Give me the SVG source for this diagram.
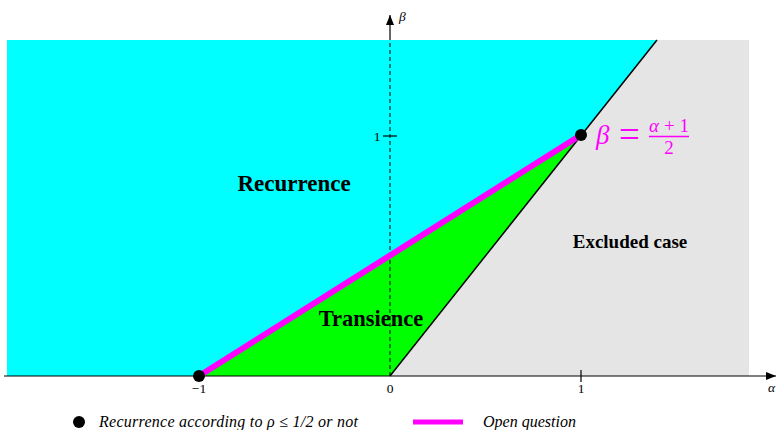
<svg xmlns="http://www.w3.org/2000/svg" width="777" height="430" viewBox="0 0 777 430">
<style>
.lbl{font-family:"Liberation Serif",serif;font-weight:bold;fill:#000}
.tick{font-family:"Liberation Serif",serif;font-size:13.5px;fill:#000}
.leg{font-family:"Liberation Serif",serif;font-style:italic;font-size:16px;fill:#000}
.mag{font-family:"Liberation Serif",serif;fill:#ff00ff}
.axis{stroke:#000;stroke-width:1.2;fill:none}
</style>
<defs>
<marker id="arr" viewBox="0 0 10 8" refX="10" refY="4" markerWidth="10" markerHeight="8" markerUnits="userSpaceOnUse" orient="auto">
<path d="M0,0 L10,4 L0,8 Z" fill="#000"/>
</marker>
</defs>
<rect width="777" height="430" fill="#fff"/>
<g id="regions">
<polygon id="recurrence-region" points="7,40 657,40 390,376 7,376" fill="#00ffff"/>
<polygon id="excluded-region" points="657,40 749,40 749,376 390,376" fill="#e5e5e5"/>
<polygon id="transience-region" points="199,376 581,135 390,376" fill="#00ff00"/>
</g>
<g id="axes">
<line class="axis" x1="4" y1="376" x2="776" y2="376" marker-end="url(#arr)"/>
<line class="axis" x1="390" y1="40" x2="390" y2="15" marker-end="url(#arr)"/>
<line x1="390" y1="376" x2="390" y2="40" stroke="#000" stroke-width="1" stroke-dasharray="4,3"/>
<line class="axis" x1="383" y1="136" x2="397" y2="136"/>
<line class="axis" x1="581" y1="370" x2="581" y2="382"/>
<text class="tick" x="199" y="393" text-anchor="middle">−1</text>
<text class="tick" x="390" y="393" text-anchor="middle">0</text>
<text class="tick" x="581" y="393" text-anchor="middle">1</text>
<text class="tick" x="377" y="141" text-anchor="middle">1</text>
<text class="tick" x="768" y="392" font-style="italic" font-size="15">α</text>
<text class="tick" x="399" y="21" font-style="italic" font-size="15">β</text>
</g>
<g id="connectors">
<line id="boundary" x1="390" y1="376" x2="657" y2="40" stroke="#000" stroke-width="1.5"/>
<line id="open-question" x1="199" y1="376" x2="581" y2="135" stroke="#ff00ff" stroke-width="6"/>
</g>
<g id="point-minus1"><circle cx="199" cy="376" r="6" fill="#000"/></g>
<g id="point-1-1"><circle cx="581" cy="135" r="6" fill="#000"/></g>
<g id="labels">
<text class="lbl" x="294" y="191" font-size="23" text-anchor="middle">Recurrence</text>
<text class="lbl" x="371" y="326" font-size="22.5" text-anchor="middle">Transience</text>
<text class="lbl" x="630" y="248" font-size="19" text-anchor="middle">Excluded case</text>
</g>
<g id="formula">
<text class="mag" x="596" y="144" font-size="27" font-style="italic">β</text>
<text class="mag" x="619" y="147" font-size="37">=</text>
<text class="mag" x="649" y="132" font-size="19" textLength="40" lengthAdjust="spacing"><tspan font-style="italic">α</tspan>+1</text>
<line x1="649" y1="136.5" x2="689" y2="136.5" stroke="#ff00ff" stroke-width="1.6"/>
<text class="mag" x="669" y="154" font-size="19" text-anchor="middle">2</text>
</g>
<g id="legend">
<circle cx="79" cy="422" r="6" fill="#000"/>
<text class="leg" x="99" y="427" textLength="259" lengthAdjust="spacing">Recurrence according to ρ ≤ 1/2 or not</text>
<line x1="413" y1="422" x2="463" y2="422" stroke="#ff00ff" stroke-width="5"/>
<text class="leg" x="483" y="427">Open question</text>
</g>
</svg>
